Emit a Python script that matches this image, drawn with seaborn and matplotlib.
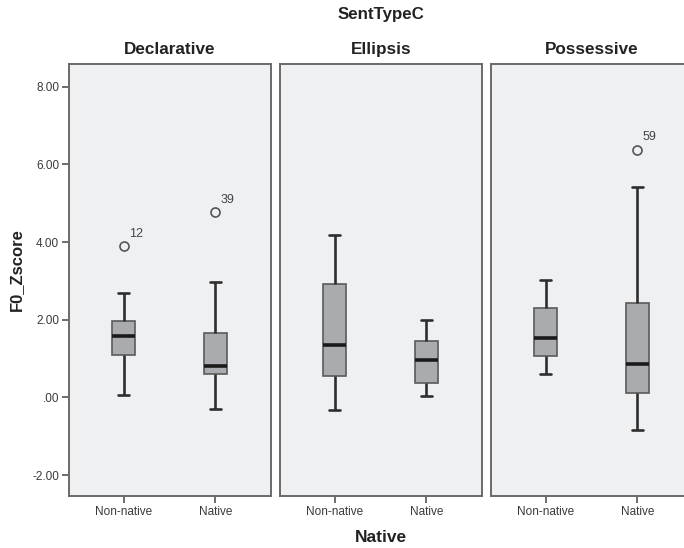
import matplotlib
matplotlib.use("Agg")
import matplotlib.pyplot as plt
import seaborn as sns
import pandas as pd
from matplotlib.ticker import FixedLocator, FuncFormatter

# ---- data ----
sent_types = ["Declarative", "Ellipsis", "Possessive"]
groups = ["Non-native", "Native"]
# order: Decl NN, Decl N, Ell NN, Ell N, Pos NN, Pos N
whisker_low = [0.07, -0.29, -0.32, 0.03, 0.60, -0.84]
q1 = [1.08, 0.59, 0.56, 0.38, 1.06, 0.12]
median = [1.57, 0.81, 1.34, 0.96, 1.54, 0.86]
q3 = [1.96, 1.66, 2.92, 1.46, 2.29, 2.42]
whisker_high = [2.70, 2.96, 4.18, 1.98, 3.03, 5.42]
outlier_value = [3.89, 4.77, None, None, None, 6.38]
outlier_case = ["12", "39", None, None, None, "59"]
y_ticks = [-2, 0, 2, 4, 6, 8]

rows = []
k = 0
for st in sent_types:
    for g in groups:
        vals = [whisker_low[k], q1[k], q1[k], median[k], median[k],
                q3[k], q3[k], whisker_high[k]]
        if outlier_value[k] is not None:
            vals.append(outlier_value[k])
        for v in vals:
            rows.append({"SentTypeC": st, "Native": g, "F0_Zscore": v})
        k += 1
df = pd.DataFrame(rows)

sns.set_theme(style="white")
plt.rcParams["font.family"] = ["Liberation Sans", "DejaVu Sans"]

W, H = 684, 548
fig = plt.figure(figsize=(W / 100, H / 100), dpi=100)
fig.patch.set_facecolor("white")

panel_left = [69, 280, 491]
panel_w = 202
panel_top = 64
panel_bottom = 496

face = "#EFF0F2"
frame = "#6A6A6A"
tick_col = "#555555"

def yfmt(v, pos):
    s = f"{v:.2f}"
    if abs(v) < 1:
        s = s.replace("0.", ".", 1)
    return s

for i, st in enumerate(sent_types):
    ax = fig.add_axes([panel_left[i] / W, 1 - panel_bottom / H,
                       panel_w / W, (panel_bottom - panel_top) / H])
    ax.set_facecolor(face)
    sub = df[df["SentTypeC"] == st]
    sns.boxplot(data=sub, x="Native", y="F0_Zscore", order=groups, ax=ax,
                color="#AAABAE", saturation=1, width=0.25, whis=1.5,
                linecolor="#5A5A5A", linewidth=1.2,
                boxprops=dict(edgecolor="#5A5A5A", linewidth=1.2),
                medianprops=dict(color="#1A1A1A", linewidth=2.6),
                whiskerprops=dict(color="#2E2E2E", linewidth=1.9),
                capprops=dict(color="#2E2E2E", linewidth=1.9),
                capwidths=0.12,
                flierprops=dict(marker="o", markersize=6.5,
                                markerfacecolor="none",
                                markeredgecolor="#555555",
                                markeredgewidth=1.2))
    for j, g in enumerate(groups):
        idx = i * 2 + j
        if outlier_value[idx] is not None:
            ax.annotate(outlier_case[idx], xy=(j, outlier_value[idx]),
                        xytext=(4, 4.5), textcoords="offset points",
                        ha="left", va="bottom", fontsize=9, color="#444444")
    ax.set_xlim(-0.6, 1.61)
    ax.set_ylim(-2.54, 8.585)
    ax.set_xlabel("")
    ax.set_ylabel("")
    for sp in ax.spines.values():
        sp.set_visible(True)
        sp.set_color(frame)
        sp.set_linewidth(1.4)
    ax.tick_params(axis="x", bottom=True, direction="out", length=5,
                   width=1.2, color=tick_col, labelsize=8.5,
                   labelcolor="#3A3A3A", pad=2)
    if i == 0:
        ax.yaxis.set_major_locator(FixedLocator(y_ticks))
        ax.yaxis.set_major_formatter(FuncFormatter(yfmt))
        ax.tick_params(axis="y", left=True, direction="out", length=5,
                       width=1.2, color=tick_col, labelsize=8.5,
                       labelcolor="#3A3A3A", pad=2)
    else:
        ax.set_yticks([])
    ax.set_title(st, fontsize=12.3, fontweight="bold", color="#222222",
                 pad=7)

mid = (panel_left[1] + panel_w / 2) / W
fig.text(mid, 1 - 15 / H, "SentTypeC", ha="center", va="center",
         fontsize=12.2, fontweight="bold", color="#222222")
fig.text(mid, 1 - 537 / H, "Native", ha="center", va="center",
         fontsize=12.5, fontweight="bold", color="#222222")
fig.text(16 / W, 1 - 270 / H, "F0_Zscore", ha="center", va="center",
         rotation=90, fontsize=12, fontweight="bold", color="#222222")

fig.savefig("out.png", dpi=100, facecolor="white")
